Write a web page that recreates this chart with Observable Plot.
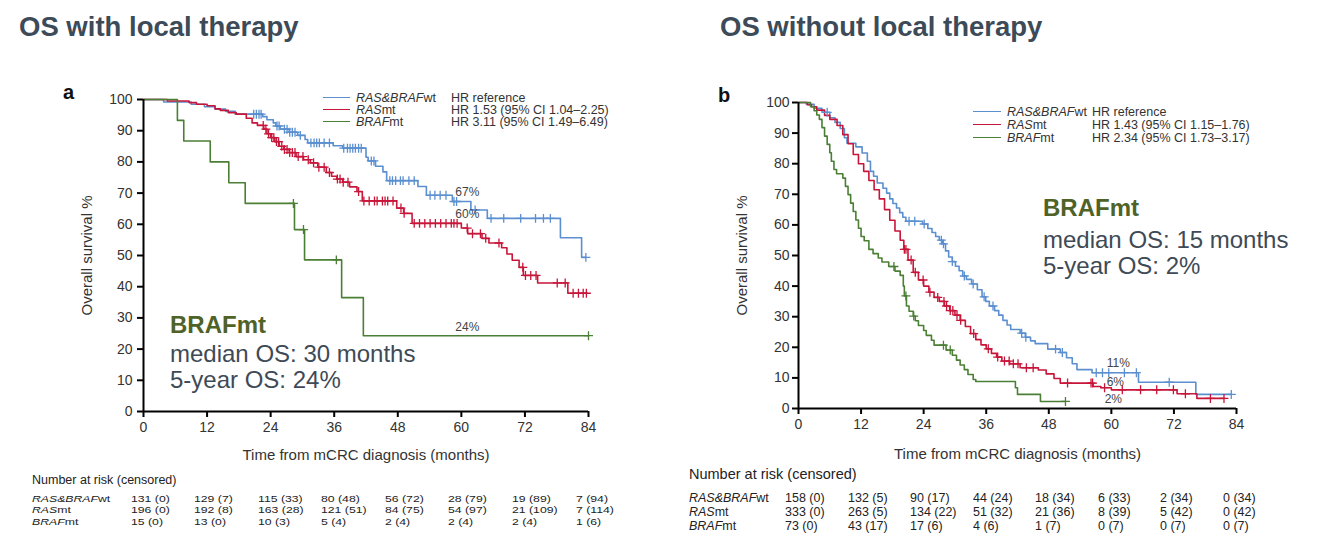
<!DOCTYPE html>
<html><head><meta charset="utf-8">
<script src="https://cdn.jsdelivr.net/npm/d3@7"></script>
<script src="https://cdn.jsdelivr.net/npm/@observablehq/plot@0.6"></script>
<style>
body{margin:0;background:#fff;font-family:"Liberation Sans",Arial,Helvetica,sans-serif;}
#page{position:relative;width:1331px;height:552px;overflow:hidden;background:#fff;}
.abs{position:absolute;white-space:pre;transform-origin:0 50%;}
.title{font-weight:bold;color:#3d4a58;}
.panel{font-weight:bold;color:#111;}
.annh{font-weight:bold;color:#4f6228;}
.ann{color:#3e4a56;}
.leg{color:#333;}
.risk{color:#222;}
svg{position:absolute;overflow:visible;}
</style></head><body><div id="page"></div>
<script>
// ---------- data ----------
const months = [0, 12, 24, 36, 48, 60, 72, 84];
const yTicks = [0, 10, 20, 30, 40, 50, 60, 70, 80, 90, 100];
const groups = ["RAS&BRAFwt", "RASmt", "BRAFmt"];
const groupItalic = ["RAS&BRAF", "RAS", "BRAF"];
const groupSuffix = ["wt", "mt", "mt"];
const titles = ["OS with local therapy", "OS without local therapy"];
const panels = ["a", "b"];
const xLabel = "Time from mCRC diagnosis (months)";
const yLabel = "Overall survival %";
const riskHeader = "Number at risk (censored)";

const leftHR = ["HR reference", "HR 1.53 (95% CI 1.04–2.25)", "HR 3.11 (95% CI 1.49–6.49)"];
const rightHR = ["HR reference", "HR 1.43 (95% CI 1.15–1.76)", "HR 2.34 (95% CI 1.73–3.17)"];

// With local therapy (a)
const leftWtTime = [0, 3.8, 9, 11.5, 13.5, 15.5, 17.3, 22.5, 23.3, 24.5, 25, 25.8, 27.5, 29.1, 30.5, 31, 35.8, 37.6, 42, 42.4, 43.8, 45.2, 45.9, 51.8, 53.4, 58.3, 61.8, 64.9, 78.7, 82.7, 83.5];
const leftWtSurv = [100, 99.2, 98.5, 97.7, 96.9, 96.2, 95.3, 94.5, 93.5, 92.5, 91.5, 90.5, 89.5, 88.5, 87.2, 86.1, 85.2, 84.4, 81.5, 80.3, 78.6, 76.8, 74, 72.1, 69.3, 67.3, 64.6, 61.9, 55.7, 49.4, 49.4];
const leftRasTime = [0, 4.5, 8.6, 10, 12, 13.5, 14.5, 16, 17.5, 19.4, 20.5, 21.5, 22.7, 23.3, 24, 24.8, 25.6, 26.5, 27.5, 28.8, 30.2, 31.5, 32.9, 34.5, 35.5, 36.5, 37.6, 38.9, 40.3, 41.3, 47.8, 49.1, 50.7, 60, 61.2, 63.9, 65.2, 67.6, 68.6, 69.6, 70.9, 71.7, 74.4, 80.1, 83.7];
const leftRasSurv = [100, 99.5, 99, 98.5, 98, 97, 96.5, 95.8, 95.3, 94, 92.5, 91.7, 90.5, 89, 87.8, 86.5, 85, 84, 83, 81.7, 80.7, 79.7, 78.3, 76.6, 75.4, 74.5, 73.5, 72, 70.5, 67.5, 65.2, 63.5, 60.3, 58.8, 57, 55.5, 54, 52.5, 50.5, 48.5, 46.2, 43.6, 41.2, 37.9, 37.9];
const leftBrafTime = [0, 6.4, 7.6, 12.6, 16.1, 19.2, 28.5, 30.4, 37.4, 41.5, 84];
const leftBrafSurv = [100, 93.3, 86.7, 80, 73.3, 66.7, 58.3, 48.6, 36.5, 24.3, 24.3];
const leftWtCens = [20.8, 21.3, 21.8, 22.2, 25.2, 25.6, 26.6, 27.1, 27.6, 28.1, 28.6, 29.6, 31.6, 32.2, 32.7, 33.2, 34.1, 35.1, 37.8, 38.5, 39, 39.5, 40, 40.6, 41.1, 43, 43.5, 46.5, 47, 47.6, 48.5, 49, 50.1, 51.1, 54.1, 55, 56, 57.1, 58.6, 59.1, 62.6, 65.6, 68, 71.2, 74, 75.5, 76.8, 83.5];
const leftRasCens = [22.6, 23.1, 23.6, 24.2, 24.6, 25.1, 25.5, 26.1, 26.6, 27.1, 27.6, 28.1, 28.6, 29.2, 30.1, 31.1, 32.1, 33.1, 34.1, 35.1, 36.6, 37.1, 37.7, 38.6, 40.6, 41.6, 42.6, 43.6, 44.1, 45.1, 45.6, 46.1, 47.1, 48.6, 49.2, 51.1, 52.1, 53.1, 54.1, 55.1, 56.1, 57.1, 58.1, 58.6, 59.2, 61.1, 62.1, 63.6, 64.6, 67.1, 71.6, 72.1, 73.1, 74.1, 78.1, 79.6, 81.1, 82.1, 83, 83.6];
const leftBrafCens = [28.3, 30.2, 36.4, 84];
const leftFiveYear = [67, 60, 24];

// Without local therapy (b)
const rightWtTime = [0, 1.5, 3, 4.5, 6, 7, 8, 8.8, 9.3, 11, 12.2, 13.2, 13.8, 14.4, 15.1, 16.2, 16.9, 17.5, 18.1, 18.8, 19.4, 20, 20.6, 23.8, 24.8, 25.6, 26.3, 27, 27.6, 28.2, 28.8, 29.5, 30.1, 30.8, 31.5, 32.2, 33.2, 34.3, 35.2, 35.9, 36.6, 37.6, 38.4, 39.2, 40, 40.7, 42.5, 43.5, 44.5, 45.4, 47.8, 50.2, 51.4, 52.5, 53.4, 56.3, 65.2, 76.2, 83];
const rightWtSurv = [100, 99.4, 98.1, 96.8, 95, 93.5, 91.5, 88.5, 86.7, 85.5, 83.5, 80.8, 77.5, 75.9, 73.7, 72, 70.4, 68.5, 67, 65.5, 64, 62.5, 61.2, 60.3, 58.8, 57.5, 56.2, 55, 53.8, 51.5, 49.5, 48, 46.5, 45, 43.3, 42.2, 40.7, 38.8, 36.5, 35, 33.5, 32, 30.5, 28.8, 27.3, 25.8, 24.6, 23.3, 22.1, 21.2, 19.4, 18.3, 16.6, 14.6, 12.7, 11.7, 8.6, 4.6, 4.6];
const rightRasTime = [0, 1.7, 2.5, 3.5, 5, 6, 7.4, 8.5, 9.5, 10.5, 11.5, 12.5, 13.5, 14.5, 15.5, 16.5, 17.5, 18.5, 19.5, 20.2, 21, 22, 23, 24, 25, 26, 27, 28, 29, 30, 31, 32, 33, 34, 35, 36, 37, 38, 39, 40.5, 42.5, 46, 47.5, 49, 50.2, 56.5, 58, 60, 72.6, 76.4, 81.6];
const rightRasSurv = [100, 99.3, 98.6, 97.5, 95.8, 94.5, 92.5, 89.5, 86.5, 83, 80, 77.5, 74.5, 71.5, 68.5, 65, 61.5, 58, 55, 52, 48.5, 44.5, 42, 40, 38, 36.3, 35, 33.5, 32, 30.5, 28.8, 26.8, 24.5, 22.5, 20.8, 19.5, 18, 16.8, 15.5, 14.6, 13.3, 12.6, 11.3, 9.8, 8.3, 7.2, 6.8, 6.1, 4.8, 3.3, 3.3];
const rightBrafTime = [0, 2.3, 3, 3.5, 4, 4.5, 5, 5.5, 6, 6.3, 6.8, 7.3, 8.5, 9, 9.5, 10, 10.5, 11, 11.5, 12, 12.6, 13.5, 14.3, 15.3, 16, 17.3, 18.5, 19.5, 20.1, 20.3, 20.7, 21.2, 22, 22.4, 23, 24, 24.5, 25.5, 26, 28.3, 29.5, 30.3, 31, 31.8, 32.5, 33.5, 34, 41.6, 42, 46.4, 51.2];
const rightBrafSurv = [100, 98.6, 97.3, 95.9, 94.5, 91.8, 89, 86.3, 83.6, 80.8, 78.1, 76.7, 75.3, 72.6, 69.9, 67.1, 64.4, 61.6, 58.9, 56.2, 54.8, 52, 50.6, 49.2, 47.9, 46.4, 44.9, 43.5, 40, 36.8, 33.5, 31.8, 30.2, 28.7, 27.1, 25.5, 23.9, 22.3, 20.7, 19.1, 17.4, 15.8, 14.2, 12.7, 11.1, 9.5, 8.8, 6.8, 4.6, 2.3, 2.3];
const rightWtCens = [5.5, 21.2, 22.3, 24.1, 27.4, 27.8, 29.5, 31.8, 33.5, 35.6, 37.3, 42.8, 43.6, 49.3, 50.6, 57.1, 58.3, 59.5, 62.5, 64.8, 71.1, 83];
const rightRasCens = [20.3, 20.6, 21.6, 22.4, 23.9, 25.2, 26.7, 27.9, 28.4, 29.1, 29.6, 30.4, 31.1, 33.6, 36.4, 38.2, 39.5, 40.4, 41.2, 42.1, 43.7, 45, 51.6, 56.1, 56.4, 58.7, 62.1, 65.6, 68.7, 71.9, 74.2, 79, 81.6];
const rightBrafCens = [18.3, 20.6, 22.1, 27.8, 29.1, 51.2];
const rightFiveYear = [11, 6, 2];

// Number at risk (censored)
const leftRiskWt = [131, 129, 115, 80, 56, 28, 19, 7];
const leftCensWt = [0, 7, 33, 48, 72, 79, 89, 94];
const leftRiskRas = [196, 192, 163, 121, 84, 54, 21, 7];
const leftCensRas = [0, 8, 28, 51, 75, 97, 109, 114];
const leftRiskBraf = [15, 13, 10, 5, 2, 2, 2, 1];
const leftCensBraf = [0, 0, 3, 4, 4, 4, 4, 6];
const rightRiskWt = [158, 132, 90, 44, 18, 6, 2, 0];
const rightCensWt = [0, 5, 17, 24, 34, 33, 34, 34];
const rightRiskRas = [333, 263, 134, 51, 21, 8, 5, 0];
const rightCensRas = [0, 5, 22, 32, 36, 39, 42, 42];
const rightRiskBraf = [73, 43, 17, 4, 1, 0, 0, 0];
const rightCensBraf = [0, 17, 6, 6, 7, 7, 7, 7];

const annHead = "BRAFmt";
const leftAnn = ["median OS: 30 months", "5-year OS: 24%"];
const rightAnn = ["median OS: 15 months", "5-year OS: 2%"];

// ---------- styles ----------
const FONT = '"Liberation Sans", Arial, Helvetica, sans-serif';
const colors = ["#5b8fd0", "#c8163a", "#4a7f35"];
const page = document.getElementById("page");

function stepAt(time, surv, t) {
  let v = surv[0];
  for (let i = 0; i < time.length; i++) if (time[i] <= t) v = surv[i];
  return v;
}

function addText(html, x, cy, cls, fs, lh, sx) {
  lh = lh || fs * 1.2;
  const d = document.createElement("div");
  d.className = "abs " + cls;
  d.style.left = x + "px";
  d.style.top = (cy - lh / 2) + "px";
  d.style.height = lh + "px";
  d.style.lineHeight = lh + "px";
  d.style.fontSize = fs + "px";
  if (sx) d.style.transform = `scaleX(${sx})`;
  d.innerHTML = html;
  page.appendChild(d);
  return d;
}

function km(cfg) {
  const lines = [], cens = [];
  cfg.curves.forEach(([time, surv, cTimes], i) => {
    time.forEach((t, j) => lines.push({g: groups[i], t, s: surv[j]}));
    cTimes.forEach(c => cens.push({g: groups[i], t: c, s: stepAt(time, surv, c)}));
  });
  const fiveMarks = cfg.five.map((v, i) => Plot.text([v], {
    x: () => 60, y: d => d, text: d => d + "%", dx: cfg.fiveDx[i], dy: cfg.fiveDy[i],
    fontSize: 12, fill: "#444"
  }));
  const svg = Plot.plot({
    width: cfg.width, height: cfg.height,
    marginLeft: cfg.ml, marginRight: cfg.mr, marginTop: cfg.mt, marginBottom: cfg.mb,
    style: {fontFamily: FONT, fontSize: "14px", color: "#333", background: "transparent"},
    x: {domain: [0, 84]},
    y: {domain: [0, 100]},
    color: {domain: groups, range: colors},
    marks: [
      Plot.axisY(yTicks, {tickSize: 6, tickPadding: cfg.ytp, strokeWidth: 2, stroke: "#000", fontSize: 14, label: null}),
      Plot.axisY([], {label: yLabel, labelAnchor: "center", labelArrow: "none", labelOffset: cfg.ylo, fontSize: 15, fill: "#333"}),
      Plot.axisX(months, {tickSize: 6, tickPadding: 5, strokeWidth: 2, stroke: "#000", fontSize: 14, label: null}),
      Plot.axisX([], {label: xLabel, labelAnchor: "center", labelArrow: "none", labelOffset: cfg.xlo, fontSize: 15, fill: "#333"}),
      Plot.line(lines, {x: "t", y: "s", z: "g", stroke: "g", curve: "step-after", strokeWidth: 1.6}),
      Plot.dot(cens, {x: "t", y: "s", stroke: "g", symbol: "plus", r: 3, strokeWidth: 1.3}),
      Plot.ruleX([0], {stroke: "#000", strokeWidth: 2}),
      Plot.ruleY([0], {stroke: "#000", strokeWidth: 2}),
      ...fiveMarks
    ]
  });
  svg.style.left = cfg.left + "px";
  svg.style.top = cfg.top + "px";
  page.appendChild(svg);
  return svg.scale("x");
}

const xl = km({
  left: 0, top: 80, width: 660, height: 400, ml: 143, mr: 72, mt: 19, mb: 69, ylo: 62, xlo: 48, ytp: 5,
  curves: [[leftWtTime, leftWtSurv, leftWtCens], [leftRasTime, leftRasSurv, leftRasCens], [leftBrafTime, leftBrafSurv, leftBrafCens]],
  five: leftFiveYear, fiveDx: [6, 6, 6], fiveDy: [-10, -10, -9]
});
const xr = km({
  left: 665, top: 80, width: 620, height: 390, ml: 133, mr: 49, mt: 22, mb: 62, ylo: 62, xlo: 50, ytp: 3,
  curves: [[rightWtTime, rightWtSurv, rightWtCens], [rightRasTime, rightRasSurv, rightRasCens], [rightBrafTime, rightBrafSurv, rightBrafCens]],
  five: rightFiveYear, fiveDx: [7, 4, 2], fiveDy: [-12, -8, -3]
});

// titles & panel letters
addText(titles[0], 19, 26, "title", 27.5);
addText(titles[1], 720, 26, "title", 27.5);
addText(panels[0], 63, 92, "panel", 20);
addText(panels[1], 718, 95, "panel", 20);

// legends
function legend(x0, xText, xHR, rows, hr, fs) {
  rows.forEach((cy, i) => {
    const ln = document.createElement("div");
    ln.className = "abs";
    ln.style.cssText += `left:${x0}px;top:${cy - 0.8}px;width:${xText - x0 - 6}px;height:0;border-top:1.6px solid ${colors[i]};`;
    page.appendChild(ln);
    addText(`<i>${groupItalic[i]}</i>${groupSuffix[i]}`, xText, cy, "leg", fs, 11);
    addText(hr[i], xHR, cy, "leg", fs, 11);
  });
}
legend(323, 356, 451, [98, 110, 122], leftHR, 12.5);
legend(973, 1007, 1092, [112, 125, 138], rightHR, 12.5);

// annotations
addText(annHead, 170, 325, "annh", 24);
addText(leftAnn[0], 170, 354, "ann", 24, 24);
addText(leftAnn[1], 170, 380, "ann", 24, 24);
addText(annHead, 1043, 208, "annh", 24);
addText(rightAnn[0], 1043, 240, "ann", 24, 24);
addText(rightAnn[1], 1043, 266, "ann", 24, 24);

// risk tables
function riskTable(xs, svgLeft, colShift, labelX, headY, rowYs, headFs, rowFs, lh, sx, risks) {
  addText(riskHeader, labelX, headY, "risk", headFs);
  risks.forEach(([r, c], i) => {
    addText(`<i>${groupItalic[i]}</i>${groupSuffix[i]}`, labelX, rowYs[i], "risk", rowFs, lh, sx);
    months.forEach((m, j) => {
      addText(`${r[j]} (${c[j]})`, svgLeft + xs.apply(m) + colShift, rowYs[i], "risk", rowFs, lh, sx);
    });
  });
}
riskTable(xl, 0, -12.5, 32, 480, [498, 509.5, 521], 12.5, 9.8, 9, 1.25,
  [[leftRiskWt, leftCensWt], [leftRiskRas, leftCensRas], [leftRiskBraf, leftCensBraf]]);
riskTable(xr, 665, -13, 689, 475, [498, 512, 526], 14.5, 12, 12, 1.04,
  [[rightRiskWt, rightCensWt], [rightRiskRas, rightCensRas], [rightRiskBraf, rightCensBraf]]);
</script></body></html>
